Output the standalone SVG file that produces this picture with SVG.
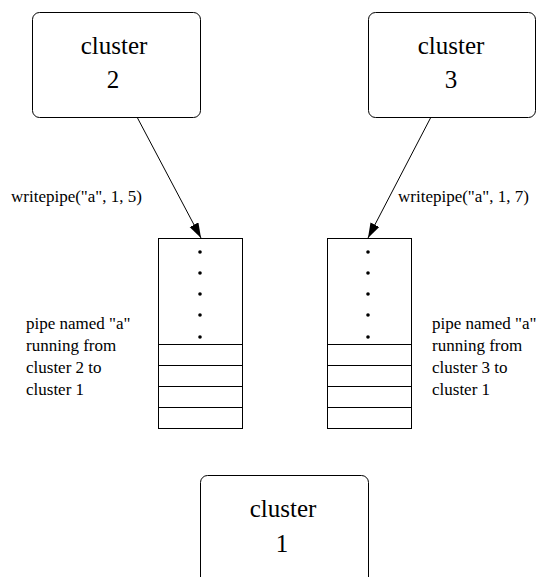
<svg xmlns="http://www.w3.org/2000/svg" width="536" height="577" viewBox="0 0 536 577">
<defs>
<style>
.box{fill:#fff;stroke:#000;stroke-width:1}
.pipe{fill:#fff;stroke:#000;stroke-width:1}
.sep{stroke:#000;stroke-width:1}
.big{font-family:'Liberation Serif','Times New Roman','Nimbus Roman','DejaVu Serif',serif;font-size:25px;fill:#000;text-anchor:middle}
.lbl{font-family:'Liberation Serif','Times New Roman','Nimbus Roman','DejaVu Serif',serif;font-size:17px;fill:#000}
.dot{fill:#000}
.conn{stroke:#000;stroke-width:1;fill:none}
</style>
<marker id="ah" markerUnits="userSpaceOnUse" markerWidth="16" markerHeight="12" refX="15" refY="5" orient="auto">
<path d="M0,0 L15,5 L0,10 Z" fill="#000"/>
</marker>
</defs>
<rect width="536" height="577" fill="#fff"/>
<g id="cluster2">
<rect class="box" x="32.5" y="12.5" width="168" height="105" rx="7"/>
<text class="big" x="114" y="54" font-family="Liberation Serif, DejaVu Serif, serif">cluster</text>
<text class="big" x="113" y="88" font-family="Liberation Serif, DejaVu Serif, serif">2</text>
</g>
<g id="cluster3">
<rect class="box" x="368.5" y="12.5" width="167" height="105" rx="7"/>
<text class="big" x="451" y="54" font-family="Liberation Serif, DejaVu Serif, serif">cluster</text>
<text class="big" x="451" y="88" font-family="Liberation Serif, DejaVu Serif, serif">3</text>
</g>
<g id="cluster1">
<rect class="box" x="200.5" y="475.5" width="168" height="120" rx="7"/>
<text class="big" x="283" y="517" font-family="Liberation Serif, DejaVu Serif, serif">cluster</text>
<text class="big" x="282" y="552" font-family="Liberation Serif, DejaVu Serif, serif">1</text>
</g>
<g id="pipe2">
<rect class="pipe" x="158.5" y="238.5" width="84" height="190"/>
<line class="sep" x1="158.5" y1="344.5" x2="242.5" y2="344.5"/>
<line class="sep" x1="158.5" y1="365.5" x2="242.5" y2="365.5"/>
<line class="sep" x1="158.5" y1="386.5" x2="242.5" y2="386.5"/>
<line class="sep" x1="158.5" y1="407.5" x2="242.5" y2="407.5"/>
<circle class="dot" cx="200" cy="252" r="1.8"/>
<circle class="dot" cx="200" cy="273" r="1.8"/>
<circle class="dot" cx="200" cy="294" r="1.8"/>
<circle class="dot" cx="200" cy="315" r="1.8"/>
<circle class="dot" cx="200" cy="337" r="1.8"/>
<text class="lbl" x="26" y="329" font-family="Liberation Serif, DejaVu Serif, serif">pipe named "a"</text>
<text class="lbl" x="26" y="351" font-family="Liberation Serif, DejaVu Serif, serif">running from</text>
<text class="lbl" x="26" y="373" font-family="Liberation Serif, DejaVu Serif, serif">cluster 2 to</text>
<text class="lbl" x="26" y="395" font-family="Liberation Serif, DejaVu Serif, serif">cluster 1</text>
</g>
<g id="pipe3">
<rect class="pipe" x="327.5" y="238.5" width="84" height="190"/>
<line class="sep" x1="327.5" y1="344.5" x2="411.5" y2="344.5"/>
<line class="sep" x1="327.5" y1="365.5" x2="411.5" y2="365.5"/>
<line class="sep" x1="327.5" y1="386.5" x2="411.5" y2="386.5"/>
<line class="sep" x1="327.5" y1="407.5" x2="411.5" y2="407.5"/>
<circle class="dot" cx="368" cy="252" r="1.8"/>
<circle class="dot" cx="368" cy="273" r="1.8"/>
<circle class="dot" cx="368" cy="294" r="1.8"/>
<circle class="dot" cx="368" cy="315" r="1.8"/>
<circle class="dot" cx="368" cy="337" r="1.8"/>
<text class="lbl" x="432" y="329" font-family="Liberation Serif, DejaVu Serif, serif">pipe named "a"</text>
<text class="lbl" x="432" y="351" font-family="Liberation Serif, DejaVu Serif, serif">running from</text>
<text class="lbl" x="432" y="373" font-family="Liberation Serif, DejaVu Serif, serif">cluster 3 to</text>
<text class="lbl" x="432" y="395" font-family="Liberation Serif, DejaVu Serif, serif">cluster 1</text>
</g>
<g id="connectors">
<line class="conn" x1="137" y1="117" x2="201" y2="238" marker-end="url(#ah)"/>
<text class="lbl" x="11" y="202" font-family="Liberation Serif, DejaVu Serif, serif">writepipe("a", 1, 5)</text>
<line class="conn" x1="431" y1="117" x2="368" y2="238" marker-end="url(#ah)"/>
<text class="lbl" x="398" y="202" font-family="Liberation Serif, DejaVu Serif, serif">writepipe("a", 1, 7)</text>
</g>
</svg>
